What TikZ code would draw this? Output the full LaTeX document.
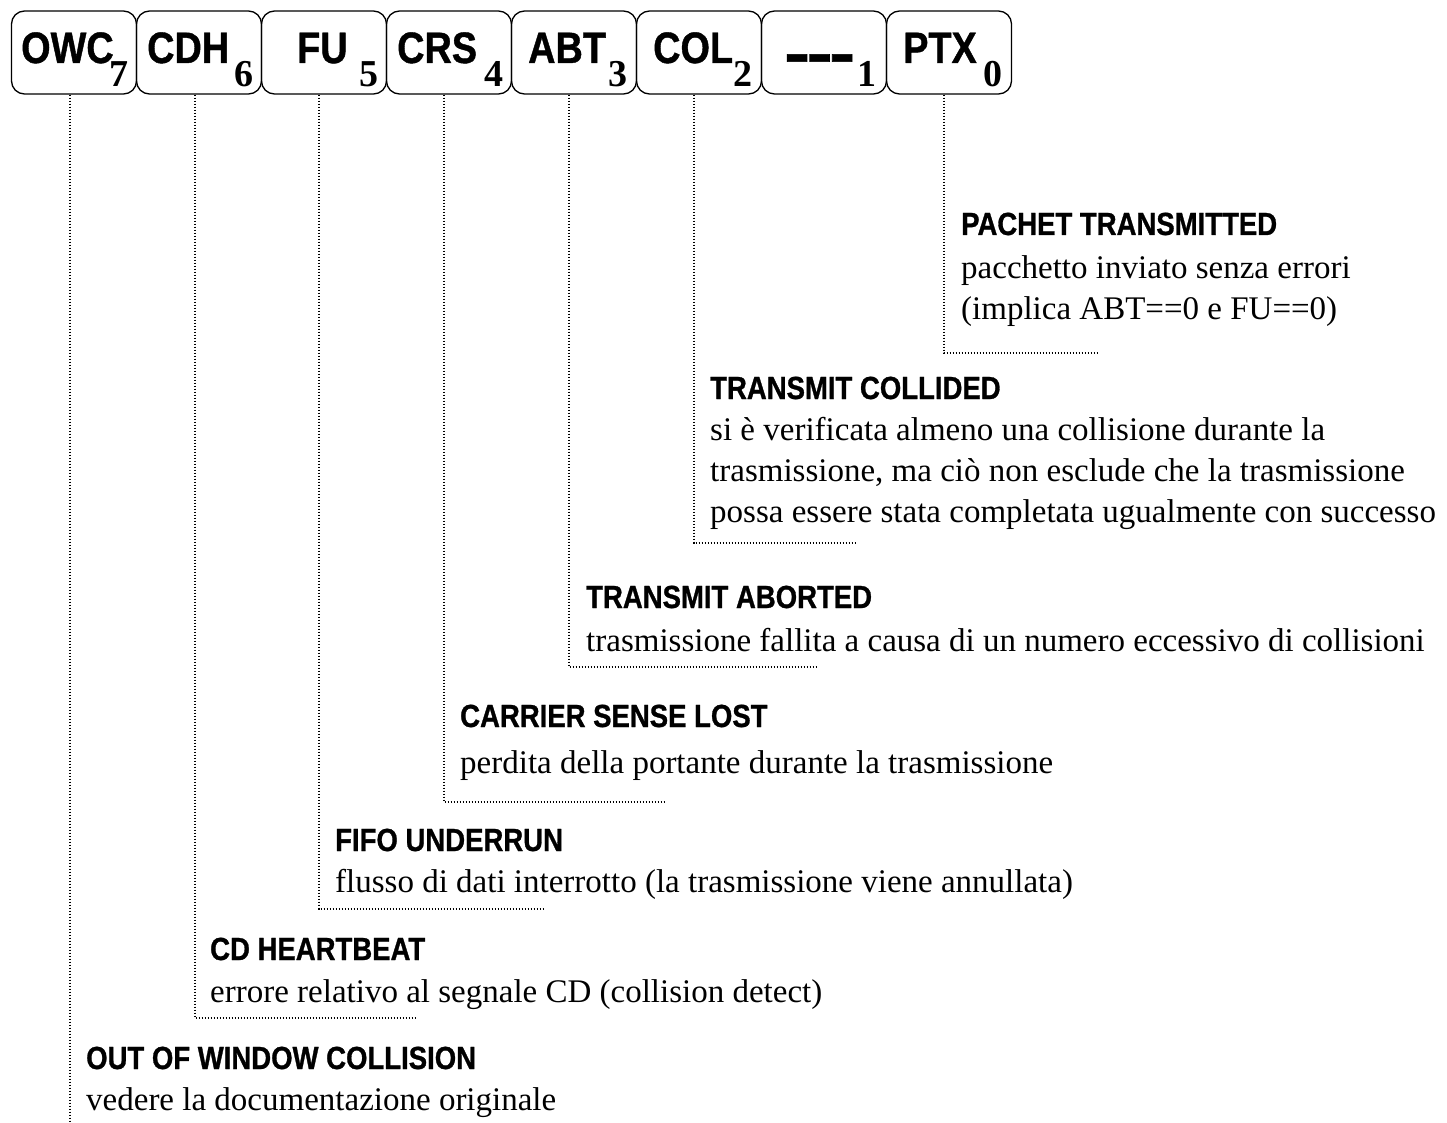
\documentclass[tikz,border=0pt]{standalone}
\usepackage{fontspec}
\usepackage{graphicx}
\setmainfont{Liberation Serif}
\newfontfamily\narrowsans[FakeStretch=0.86,BoldFeatures={FakeBold=0.9}]{Liberation Sans}
\newcommand{\fatdash}{\raisebox{-11pt}{\scalebox{2.05}[1.4]{-}}}
\begin{document}
\begin{tikzpicture}[x=1pt,y=-1pt,
  box/.style={draw, line width=1.3pt, rounded corners=13pt, minimum width=125pt, minimum height=83pt, inner sep=0pt},
  lbl/.style={anchor=base west, inner sep=0pt, font=\narrowsans\bfseries\fontsize{44}{44}\selectfont},
  sublbl/.style={anchor=base east, inner sep=0pt, font=\bfseries\fontsize{38}{38}\selectfont},
  ttl/.style={anchor=base west, inner sep=0pt, font=\narrowsans\bfseries\fontsize{32}{32}\selectfont},
  txt/.style={anchor=base west, inner sep=0pt, font=\fontsize{33}{40}\selectfont},
  dotline/.style={line width=1.2pt, dash pattern=on 1.4pt off 1.6pt}]
\useasboundingbox (0,0) rectangle (1447,1123);

% register boxes
\node[box] (b7) at (74,52.5) {};
\node[box] (b6) at (199,52.5) {};
\node[box] (b5) at (324,52.5) {};
\node[box] (b4) at (449,52.5) {};
\node[box] (b3) at (574,52.5) {};
\node[box] (b2) at (699,52.5) {};
\node[box] (b1) at (824,52.5) {};
\node[box] (b0) at (949,52.5) {};

% labels
\node[lbl] (l7) at (21,63) {OWC};
\node[lbl] (l6) at (147,63) {CDH};
\node[lbl] (l5) at (297,63) {FU};
\node[lbl] (l4) at (397,63) {CRS};
\node[lbl] (l3) at (528,63) {ABT};
\node[lbl] (l2) at (653,63) {COL};
\node[lbl] (l1) at (784,63) {\fatdash\kern-3.3pt\fatdash\kern-3.3pt\fatdash};
\node[lbl] (l0) at (903,63) {PTX};
\node[sublbl] (s7) at (129,87) {7};
\node[sublbl] (s6) at (254,87) {6};
\node[sublbl] (s5) at (378.5,87) {5};
\node[sublbl] (s4) at (504,87) {4};
\node[sublbl] (s3) at (628,87) {3};
\node[sublbl] (s2) at (753,87) {2};
\node[sublbl] (s1) at (877,87) {1};
\node[sublbl] (s0) at (1003,87) {0};

% leader coordinates
\coordinate (c0) at (944,353);  \coordinate (e0) at (1098,353);
\coordinate (c2) at (694,543);  \coordinate (e2) at (857,543);
\coordinate (c3) at (569,667);  \coordinate (e3) at (818,667);
\coordinate (c4) at (444,802);  \coordinate (e4) at (666,802);
\coordinate (c5) at (319,909);  \coordinate (e5) at (544,909);
\coordinate (c6) at (195,1018); \coordinate (e6) at (416,1018);
\coordinate (c7) at (70,1123);

\draw[dotline] (b0.south -| c0) -- (c0) -- (e0);
\draw[dotline] (b2.south -| c2) -- (c2) -- (e2);
\draw[dotline] (b3.south -| c3) -- (c3) -- (e3);
\draw[dotline] (b4.south -| c4) -- (c4) -- (e4);
\draw[dotline] (b5.south -| c5) -- (c5) -- (e5);
\draw[dotline] (b6.south -| c6) -- (c6) -- (e6);
\draw[dotline] (b7.south -| c7) -- (c7);

% descriptions
\node[ttl] (t0) at (961,235) {PACHET TRANSMITTED};
\node[txt] (d0a) at (961,278) {pacchetto inviato senza errori};
\node[txt] (d0b) at (961,319) {(implica ABT==0 e FU==0)};

\node[ttl] (t2) at (710,399) {TRANSMIT COLLIDED};
\node[txt] (d2a) at (710,440) {si è verificata almeno una collisione durante la};
\node[txt] (d2b) at (710,481) {trasmissione, ma ciò non esclude che la trasmissione};
\node[txt] (d2c) at (710,522) {possa essere stata completata ugualmente con successo};

\node[ttl] (t3) at (586,608) {TRANSMIT ABORTED};
\node[txt] (d3a) at (586,651) {trasmissione fallita a causa di un numero eccessivo di collisioni};

\node[ttl] (t4) at (460,727) {CARRIER SENSE LOST};
\node[txt] (d4a) at (460,773) {perdita della portante durante la trasmissione};

\node[ttl] (t5) at (335,851) {FIFO UNDERRUN};
\node[txt] (d5a) at (335,892) {flusso di dati interrotto (la trasmissione viene annullata)};

\node[ttl] (t6) at (210,960) {CD HEARTBEAT};
\node[txt] (d6a) at (210,1002) {errore relativo al segnale CD (collision detect)};

\node[ttl] (t7) at (86,1069) {OUT OF WINDOW COLLISION};
\node[txt] (d7a) at (86,1110) {vedere la documentazione originale};
\end{tikzpicture}
\end{document}
